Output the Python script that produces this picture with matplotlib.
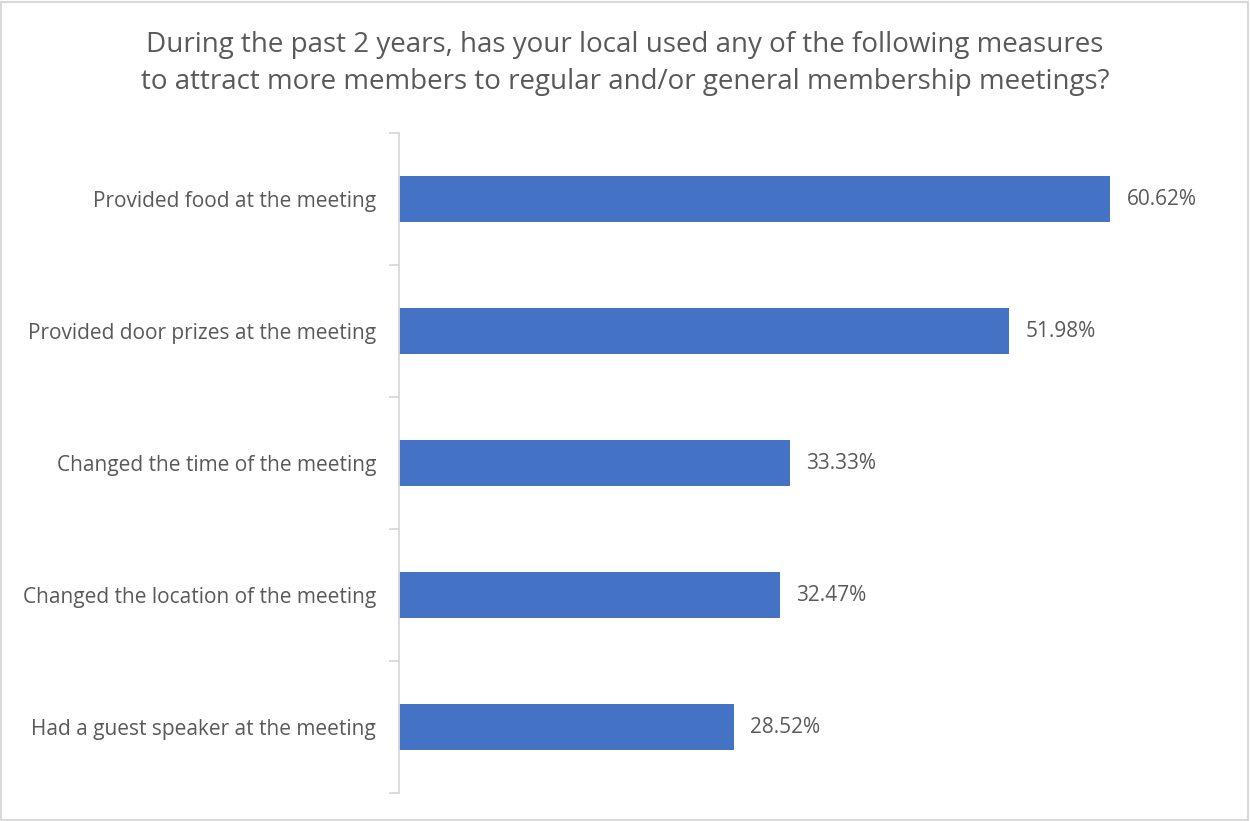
import matplotlib.pyplot as plt
from matplotlib.patches import Rectangle

# survey answers, top to bottom
measures = [
    'Provided food at the meeting',
    'Provided door prizes at the meeting',
    'Changed the time of the meeting',
    'Changed the location of the meeting',
    'Had a guest speaker at the meeting',
]
shares = [60.62, 51.98, 33.33, 32.47, 28.52]

title = ('During the past 2 years, has your local used any of the following measures\n'
         'to attract more members to regular and/or general membership meetings?')

plt.rcParams['font.family'] = ['Open Sans', 'DejaVu Sans']
TEXT = '#595959'
BAR = '#4472C4'

fig = plt.figure(figsize=(12.5, 8.21), dpi=100)
ax = fig.add_axes([0.3192, 0.0341, 0.657, 0.8039])

ypos = list(range(len(measures)))
ax.barh(ypos, shares, height=0.356, color=BAR, edgecolor='none')
ax.set_ylim(len(measures) - 0.5, -0.5)
ax.set_xlim(0, 70)

# category boundaries carry the ticks, labels sit at the bar centres
ax.set_yticks([i - 0.5 for i in range(len(measures) + 1)])
ax.set_yticklabels([])
ax.set_yticks(ypos, minor=True)
ax.set_yticklabels(measures, minor=True)
ax.tick_params(axis='y', which='major', length=7, width=1.3, color='#d9d9d9')
ax.tick_params(axis='y', which='minor', length=0, pad=16.5, labelsize=15, labelcolor=TEXT)
ax.set_xticks([])

for side in ('top', 'right', 'bottom'):
    ax.spines[side].set_visible(False)
ax.spines['left'].set_color('#d9d9d9')
ax.spines['left'].set_linewidth(1.3)

for y, v in zip(ypos, shares):
    ax.text(v + 1.4, y, f'{v:.2f}%', va='center', ha='left', fontsize=15, color=TEXT)

fig.text(0.5, 0.9227, title, ha='center', va='center', fontsize=20, color=TEXT,
         linespacing=1.47)

# thin grey frame round the whole chart
fig.patches.append(Rectangle((0.001, 0.001), 0.997, 0.997, transform=fig.transFigure,
                             fill=False, edgecolor='#d9d9d9', linewidth=1.5))

fig.savefig('out.png', dpi=100, facecolor='white')
